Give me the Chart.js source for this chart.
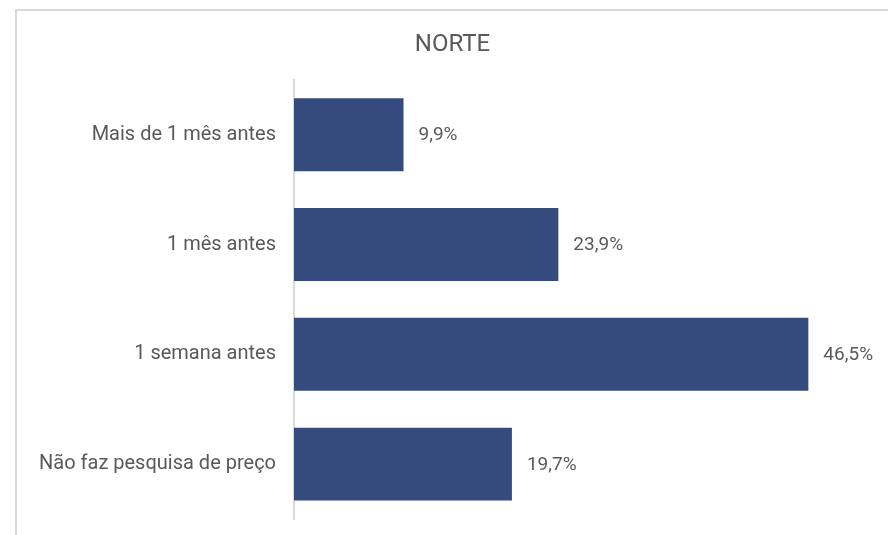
<!DOCTYPE html>
<html>
<head>
<meta charset="utf-8">
<script src="https://cdn.jsdelivr.net/npm/chart.js@4/dist/chart.umd.min.js"></script>
<style>
  html, body { margin: 0; padding: 0; background: #fff; overflow: hidden; }
  #frame {
    position: absolute; left: 15px; top: 9px; width: 873px; height: 526px;
    border-left: 2px solid #d9d9d9; border-top: 2px solid #d9d9d9;
  }
  #wrap { position: absolute; left: 0; top: 0; width: 871px; height: 524px; }
</style>
</head>
<body>
<div id="frame"><div id="wrap"><canvas id="chart"></canvas></div></div>
<script>
var categories = ['Mais de 1 mês antes', '1 mês antes', '1 semana antes', 'Não faz pesquisa de preço'];
var values = [9.9, 23.9, 46.5, 19.7];
var chartTitle = 'NORTE';

var fontFamily = 'Roboto, "Liberation Sans", sans-serif';
var textColor = '#595959';

// draws the percentage labels next to each bar
var barLabels = {
    id: 'barLabels',
    afterDatasetsDraw: function (chart) {
        var ctx = chart.ctx;
        var meta = chart.getDatasetMeta(0);
        ctx.save();
        ctx.font = '19px ' + fontFamily;
        ctx.fillStyle = textColor;
        ctx.textAlign = 'left';
        ctx.textBaseline = 'middle';
        meta.data.forEach(function (bar, i) {
            var txt = values[i].toFixed(1).replace('.', ',') + '%';
            ctx.fillText(txt, bar.x + 15, bar.y + 1);
        });
        ctx.restore();
    }
};

var ctx = document.getElementById('chart').getContext('2d');
var chart = new Chart(ctx, {
    type: 'bar',
    data: {
        labels: categories,
        datasets: [{
            data: values,
            backgroundColor: '#354B7D',
            borderWidth: 0,
            barPercentage: 0.664,
            categoryPercentage: 1.0
        }]
    },
    options: {
        indexAxis: 'y',
        responsive: true,
        maintainAspectRatio: false,
        animation: false,
        layout: { padding: { left: 0, right: 0, top: 0, bottom: 16 } },
        plugins: {
            legend: { display: false },
            tooltip: { enabled: false },
            title: {
                display: true,
                text: chartTitle,
                color: textColor,
                font: { family: fontFamily, size: 24, weight: 'normal' },
                padding: { top: 20, bottom: 20 }
            }
        },
        scales: {
            x: {
                display: false,
                min: 0,
                max: 53.7
            },
            y: {
                grid: { display: false, drawTicks: false },
                border: { display: true, color: '#d9d9d9', width: 2 },
                ticks: {
                    color: textColor,
                    padding: 18,
                    font: { family: fontFamily, size: 20 }
                },
                afterFit: function (scale) {
                    scale.width = 277;
                    scale.paddingTop = 0;
                    scale.paddingBottom = 0;
                }
            }
        }
    },
    plugins: [barLabels]
});
</script>
</body>
</html>
